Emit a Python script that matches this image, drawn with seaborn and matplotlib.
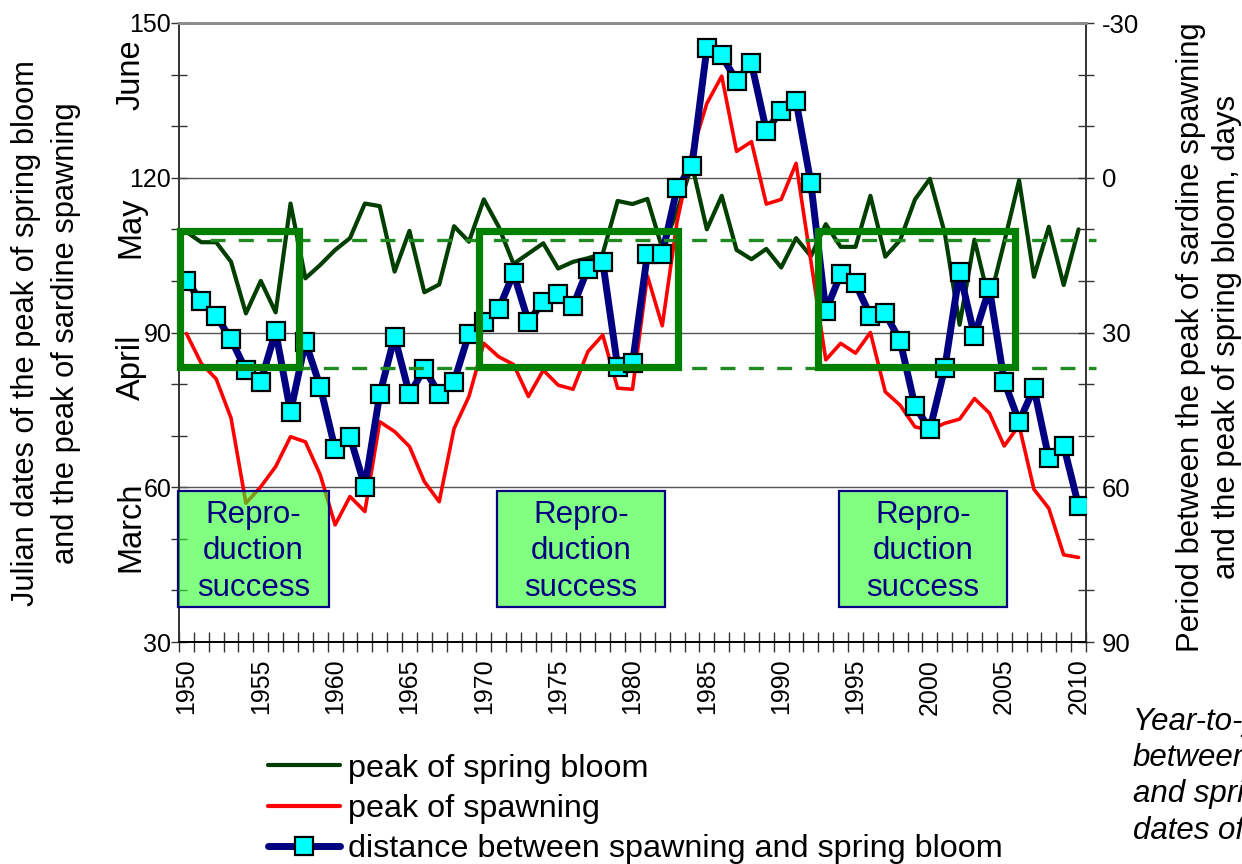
import numpy as np
import pandas as pd
import matplotlib
matplotlib.use("Agg")
import matplotlib.pyplot as plt
import matplotlib.transforms as mtransforms
from matplotlib.patches import Rectangle
from matplotlib.lines import Line2D
import seaborn as sns

# ---- data ---------------------------------------------------------------
years = list(range(1950, 2011))

# Julian day of the peak of the spring phytoplankton bloom
bloom = [109.5, 107.5, 107.5, 103.7, 93.7, 100.0, 93.9, 115.0, 100.5, 103.1,
         106.0, 108.3, 115.0, 114.5, 101.8, 109.7, 97.8, 99.3, 110.6, 107.6,
         115.8, 110.5, 103.3, 105.3, 107.3, 102.4, 103.7, 104.4, 105.3, 115.5,
         114.9, 115.9, 106.3, 113.5, 122.5, 110.0, 116.5, 106.0, 104.2, 106.2,
         102.6, 108.3, 104.8, 111.0, 106.6, 106.6, 116.5, 104.7, 107.9, 115.8,
         119.8, 109.3, 91.5, 108.0, 96.0, 107.5, 119.5, 100.8, 110.5, 99.2,
         110.0]

# Julian day of the peak of sardine spawning
spawning = [89.8, 84.0, 81.0, 73.4, 56.9, 60.1, 64.0, 69.8, 68.8, 62.4,
            52.7, 58.2, 55.3, 72.7, 70.8, 67.9, 61.1, 57.2, 71.4, 77.6,
            87.9, 85.3, 83.8, 77.6, 82.7, 79.8, 79.0, 86.3, 89.5, 79.2,
            79.0, 101.0, 91.3, 111.5, 125.0, 134.4, 139.7, 125.1, 127.0, 114.9,
            115.8, 122.8, 103.8, 84.7, 87.9, 86.0, 90.0, 78.5, 75.9, 71.7,
            71.1, 72.4, 73.2, 77.2, 74.4, 68.0, 72.0, 59.6, 55.9, 46.9,
            46.4]

# days between the spawning peak and the bloom peak (right axis)
distance = [20.0, 23.9, 26.8, 31.3, 37.3, 39.5, 29.8, 45.4, 31.8, 40.5,
            52.6, 50.2, 59.9, 42.0, 30.8, 42.0, 37.0, 41.9, 39.5, 30.2,
            27.9, 25.5, 18.5, 27.9, 24.0, 22.5, 24.9, 17.6, 16.3, 36.6,
            36.0, 14.8, 14.8, 2.0, -2.3, -25.1, -23.7, -18.8, -22.2, -9.1,
            -13.0, -14.9, 1.1, 25.8, 18.7, 20.5, 26.8, 26.3, 31.6, 44.3,
            48.8, 36.9, 18.2, 30.7, 21.4, 39.5, 47.3, 40.8, 54.4, 52.0,
            63.6]

# periods of good reproduction (start, end year) and the distance window (days)
success_periods = [(1949.56, 1957.57), (1969.7, 1983.07), (1992.5, 2005.7)]
window_days = (10.3, 36.75)
threshold_days = [12.0, 36.8]

left_ticks = [30, 60, 90, 120, 150]
right_ticks = [-30, 0, 30, 60, 90]
month_names = ["June", "May", "April", "March"]
month_pos = [140.0, 110.5, 83.3, 52.3]

legend_labels = ["peak of spring bloom", "peak of spawning",
                 "distance between spawning and spring bloom"]

df = pd.DataFrame({"year": years, "bloom": bloom,
                   "spawning": spawning, "distance": distance})

# ---- style --------------------------------------------------------------
sns.set_theme(style="white")
plt.rcParams["font.family"] = ["Liberation Sans", "DejaVu Sans"]
plt.rcParams["axes.unicode_minus"] = False
plt.rcParams["text.color"] = "black"
plt.rcParams["axes.labelcolor"] = "black"
plt.rcParams["xtick.labelcolor"] = "black"
plt.rcParams["ytick.labelcolor"] = "black"

W, H = 1242, 864
fig = plt.figure(figsize=(W / 100, H / 100), dpi=100)
ax = fig.add_axes([179 / W, 1 - 642 / H, (1086 - 179) / W, (642 - 23) / H])
ax2 = ax.twinx()

GREEN_DARK = "#003f00"
NAVY = "#000080"
BOX_GREEN = "#008000"

sns.lineplot(data=df, x="year", y="bloom", ax=ax, color=GREEN_DARK,
             linewidth=3.0, legend=False, zorder=3)
sns.lineplot(data=df, x="year", y="spawning", ax=ax, color="#ff0000",
             linewidth=2.6, legend=False, zorder=4)
sns.lineplot(data=df, x="year", y="distance", ax=ax2, color=NAVY,
             linewidth=5.0, marker="s", markersize=13.5,
             markerfacecolor="#00ffff", markeredgecolor="black",
             markeredgewidth=1.6, legend=False, zorder=5)

# ---- axes ---------------------------------------------------------------
ax.set_xlim(1949.5, 2010.5)
ax.set_ylim(30, 150)
ax2.set_ylim(90, -30)

ax.set_xlabel("")
ax.set_ylabel("")
ax2.set_ylabel("")

ax.set_xticks(list(range(1950, 2011, 5)))
ax.set_xticklabels([str(y) for y in range(1950, 2011, 5)], rotation=90)
ax.set_xticks(np.arange(1949.5, 2011, 1.0), minor=True)
ax.tick_params(axis="x", which="major", length=0, pad=12, labelsize=18,
               labelcolor="black")
ax.tick_params(axis="x", which="minor", length=14, width=1.0,
               direction="inout", color="#333333", bottom=True)

ax.set_yticks(left_ticks)
ax.set_yticks(np.arange(30, 151, 10), minor=True)
ax.tick_params(axis="y", which="both", length=11, width=1.0,
               direction="inout", left=True, color="#333333")
ax.tick_params(axis="y", which="major", pad=0, labelsize=18,
               labelcolor="black")

ax2.set_yticks(right_ticks)
ax2.set_yticks(np.arange(-30, 91, 10), minor=True)
ax2.tick_params(axis="y", which="both", length=11, width=1.0,
                direction="inout", right=True, color="#333333")
ax2.tick_params(axis="y", which="major", pad=6, labelsize=18.5,
                labelcolor="black")

for a in (ax, ax2):
    a.grid(False)
    a.spines["left"].set_color("#333333")
    a.spines["right"].set_color("#333333")
    a.spines["bottom"].set_color("black")
    a.spines["top"].set_color("#8c8c8c")
    a.spines["top"].set_linewidth(2.0)
    for s in ("left", "right", "bottom"):
        a.spines[s].set_linewidth(1.2)

for g in (60, 90, 120):
    ax.axhline(g, color="#555555", linewidth=1.0, zorder=1)

# ---- overlays -----------------------------------------------------------
for x0, x1 in success_periods:
    ax2.add_patch(Rectangle((x0, window_days[0]), x1 - x0,
                            window_days[1] - window_days[0],
                            fill=False, edgecolor=BOX_GREEN, linewidth=5.2,
                            zorder=7, clip_on=False))

for t in threshold_days:
    ax2.plot([1951.6, 2011.2], [t, t], color="#1f8a1f", linewidth=2.4,
             linestyle=(0, (4.5, 4.0)), zorder=6, clip_on=False)

note_boxes = [(1949.41, 1959.58), (1970.9, 1982.18), (1993.9, 2005.16)]
for x0, x1 in note_boxes:
    ax2.add_patch(Rectangle((x0, 60.67), x1 - x0, 83.28 - 60.67,
                            facecolor=(43 / 255, 1.0, 43 / 255, 0.6),
                            edgecolor=NAVY, linewidth=1.6, zorder=8,
                            clip_on=False))
    ax2.text((x0 + x1) / 2, (60.67 + 83.28) / 2 + 0.4, "Repro-\nduction\nsuccess",
             ha="center", va="center", fontsize=22.5, color=NAVY,
             linespacing=1.28, zorder=9)

# month names beside the left axis
blend = mtransforms.blended_transform_factory(fig.transFigure, ax.transData)
for name, pos in zip(month_names, month_pos):
    ax.text(131 / W, pos, name, transform=blend, rotation=90, ha="center",
            va="center", fontsize=23.5, color="black", clip_on=False)

# axis titles
fig.text(46 / W, 1 - 333 / H,
         "Julian dates of the peak of spring bloom\nand the peak of sardine spawning",
         rotation=90, ha="center", va="center", multialignment="center",
         fontsize=22.2, linespacing=1.43)
fig.text(1209 / W, 1 - 337 / H,
         "Period between the peak of sardine spawning\nand the peak of spring bloom, days",
         rotation=90, ha="center", va="center", multialignment="center",
         fontsize=22.4, linespacing=1.28)

# side caption
fig.text(1133 / W, 1 - 707 / H, "Year-to-year\nbetween\nand spring\ndates of",
         ha="left", va="top", fontsize=22.5, style="italic", linespacing=1.27)

# ---- legend -------------------------------------------------------------
handles = [
    Line2D([], [], color=GREEN_DARK, linewidth=3.0),
    Line2D([], [], color="#ff0000", linewidth=3.0),
    Line2D([], [], color=NAVY, linewidth=5.0, marker="s", markersize=13.5,
           markerfacecolor="#00ffff", markeredgecolor="black",
           markeredgewidth=1.6),
]
fig.legend(handles, legend_labels, loc="center left",
           bbox_to_anchor=(268 / W, 1 - 809 / H), frameon=False,
           fontsize=23.3, handlelength=2.22, handletextpad=0.25,
           labelspacing=0.32, borderpad=0, borderaxespad=0)

fig.savefig("out.png", dpi=100)
